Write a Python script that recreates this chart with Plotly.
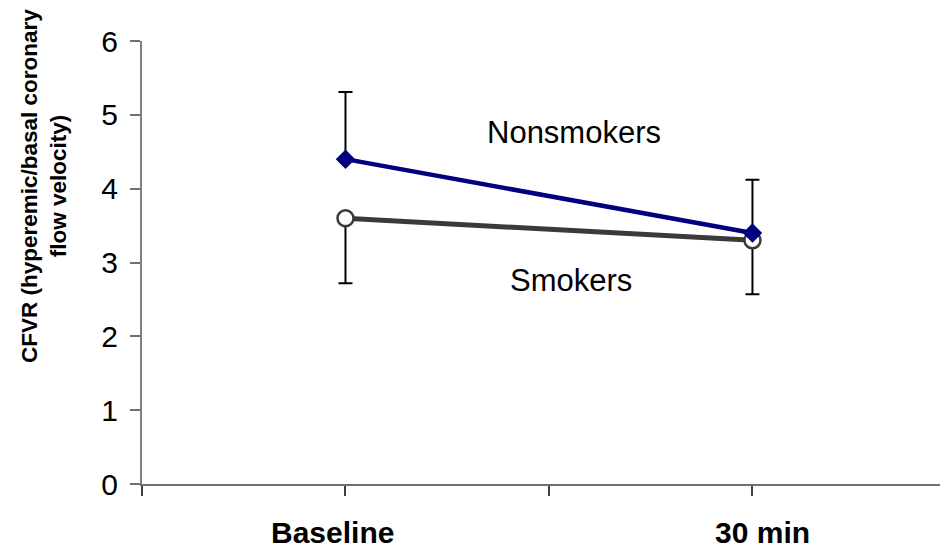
import plotly.graph_objects as go

# category positions on the x axis (ticks at 0..4, data at 1 and 3)
x_pos = [1, 3]
x_labels = ["Baseline", "30 min"]
tick_positions = [0, 1, 2, 3, 4]

# CFVR means and one-sided SD
nonsmokers = [4.40, 3.40]
nonsmokers_err = [0.91, 0.72]
smokers = [3.60, 3.30]
smokers_err = [0.88, 0.73]

FONT = "Liberation Sans, Arial, sans-serif"

fig = go.Figure()

# Smokers: grey line, open circle, error bar down only
fig.add_trace(
    go.Scatter(
        x=x_pos,
        y=smokers,
        mode="lines+markers",
        name="Smokers",
        line=dict(color="#3a3a3a", width=5),
        marker=dict(symbol="circle", size=16, color="white",
                    line=dict(color="#3a3a3a", width=2.5)),
        error_y=dict(type="data", symmetric=False, array=[0, 0],
                     arrayminus=smokers_err, color="black", thickness=2, width=7),
        showlegend=False,
    )
)

# Nonsmokers: navy line, diamond, error bar up only
fig.add_trace(
    go.Scatter(
        x=x_pos,
        y=nonsmokers,
        mode="lines+markers",
        name="Nonsmokers",
        line=dict(color="#000080", width=4.5),
        marker=dict(symbol="diamond", size=15, color="#000080"),
        error_y=dict(type="data", symmetric=False, array=nonsmokers_err,
                     arrayminus=[0, 0], color="black", thickness=2, width=7),
        showlegend=False,
    )
)

# series labels
fig.add_annotation(x=2.125, y=4.76, text="Nonsmokers", showarrow=False,
                   font=dict(family=FONT, size=31, color="black"))
fig.add_annotation(x=2.108, y=2.76, text="Smokers", showarrow=False,
                   font=dict(family=FONT, size=31, color="black"))

# category labels below the axis
for pos, lab, dx in zip(x_pos, x_labels, [-13, 10]):
    fig.add_annotation(x=pos, y=0, text="<b>%s</b>" % lab, showarrow=False,
                       yanchor="middle", yshift=-48, xshift=dx,
                       font=dict(family=FONT, size=30, color="black"))

# y axis title, two lines
fig.add_annotation(
    xref="paper", yref="paper", x=-0.1216, y=0.6727,
    text="<b>CFVR (hyperemic/basal coronary<br>flow velocity)</b>",
    textangle=-90, showarrow=False, xanchor="center", yanchor="middle",
    font=dict(family=FONT, size=22.5, color="black"),
)

# the page body adds an 8px margin, so the figure is 8px smaller
fig.update_layout(
    width=940,
    height=542,
    margin=dict(l=134, r=0, t=33, b=66),
    paper_bgcolor="white",
    plot_bgcolor="white",
    font=dict(family=FONT, color="black"),
    xaxis=dict(
        range=[0, 3.961],
        tickvals=tick_positions,
        showticklabels=False,
        ticks="outside",
        ticklen=10,
        tickwidth=1.5,
        tickcolor="#404040",
        showline=True,
        linecolor="#707070",
        linewidth=2,
        showgrid=False,
        zeroline=False,
        fixedrange=True,
    ),
    yaxis=dict(
        range=[0, 6],
        dtick=1,
        ticks="outside",
        ticklen=10,
        tickwidth=1.5,
        tickcolor="#707070",
        ticklabelstandoff=6,
        tickfont=dict(family=FONT, size=30, color="black"),
        showline=True,
        linecolor="#808080",
        linewidth=2,
        showgrid=False,
        zeroline=False,
        fixedrange=True,
    ),
)

fig.write_html("out.html")
